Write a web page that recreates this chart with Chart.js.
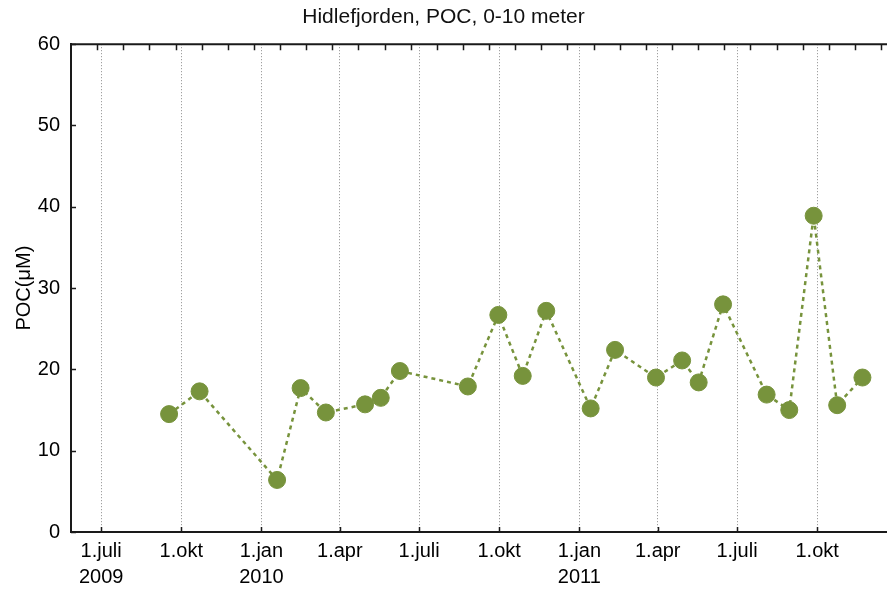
<!DOCTYPE html>
<html>
<head>
<meta charset="utf-8">
<script src="https://cdn.jsdelivr.net/npm/chart.js@4/dist/chart.umd.min.js"></script>
<style>
  html, body { margin: 0; padding: 0; background: #fff; }
  #wrap { width: 887px; height: 591px; }
</style>
</head>
<body>
<div id="wrap"><canvas id="pocChart" width="887" height="591"></canvas></div>
<script>
'use strict';

// sample dates and POC values (µM), 0-10 m
const sampleDates = [
	'2009-09-17', '2009-10-22', '2010-01-19', '2010-02-15', '2010-03-16',
	'2010-04-30', '2010-05-18', '2010-06-09', '2010-08-26', '2010-09-30',
	'2010-10-28', '2010-11-24', '2011-01-14', '2011-02-11', '2011-03-30',
	'2011-04-29', '2011-05-18', '2011-06-15', '2011-08-04', '2011-08-30',
	'2011-09-27', '2011-10-24', '2011-11-22',
];
const pocValues = [
	14.5, 17.3, 6.4, 17.7, 14.7,
	15.7, 16.5, 19.8, 17.9, 26.7,
	19.2, 27.2, 15.2, 22.4, 19.0,
	21.1, 18.4, 28.0, 16.9, 15.0,
	38.9, 15.6, 19.0,
];

// quarter tick dates and their labels
const tickDates = [
	'2009-07-01', '2009-10-01', '2010-01-01', '2010-04-01', '2010-07-01',
	'2010-10-01', '2011-01-01', '2011-04-01', '2011-07-01', '2011-10-01',
];
const tickLabels = [
	['1.juli', '2009'], '1.okt', ['1.jan', '2010'], '1.apr', '1.juli',
	'1.okt', ['1.jan', '2011'], '1.apr', '1.juli', '1.okt',
];
const yTicks = [0, 10, 20, 30, 40, 50, 60];

const origin = Date.UTC(2009, 6, 1);
const toDay = function (s) {
	const p = s.split('-').map(Number);
	return (Date.UTC(p[0], p[1] - 1, p[2]) - origin) / 86400000;
};

const tickDays = tickDates.map(toDay);
const points = sampleDates.map(function (d, i) {
	return { x: toDay(d), y: pocValues[i] };
});

const xMin = -34.6;
const xMax = 902.2;
const green = '#77933C';
const axisColor = '#1a1a1a';
const font = 'Arial, "Liberation Sans", Helvetica, sans-serif';

// top border line + small inward tick marks
const innerTicks = {
	id: 'innerTicks',
	afterDraw(chart) {
		const ctx = chart.ctx;
		const area = chart.chartArea;
		const xs = chart.scales.x;
		const ys = chart.scales.y;
		ctx.save();
		ctx.strokeStyle = axisColor;
		ctx.lineWidth = 2;
		ctx.beginPath();
		ctx.moveTo(area.left - 1, area.top);
		ctx.lineTo(chart.width, area.top);
		ctx.stroke();

		ctx.lineWidth = 1.5;
		ctx.beginPath();
		// top: ticks every 30 days
		for (let d = xMin + 30; d < xMax; d += 30) {
			const px = Math.round(xs.getPixelForValue(d)) + 0.5;
			ctx.moveTo(px, area.top);
			ctx.lineTo(px, area.top + 6);
		}
		// bottom: quarter ticks
		tickDays.forEach(function (d) {
			const px = Math.round(xs.getPixelForValue(d)) + 0.5;
			ctx.moveTo(px, area.bottom);
			ctx.lineTo(px, area.bottom - 5);
		});
		// left: value ticks
		yTicks.forEach(function (v) {
			const py = Math.round(ys.getPixelForValue(v)) + 0.5;
			ctx.moveTo(area.left, py);
			ctx.lineTo(area.left + 5, py);
		});
		ctx.stroke();
		ctx.restore();
	},
};

const ctx = document.getElementById('pocChart');

new Chart(ctx, {
	type: 'line',
	data: {
		datasets: [
			{
				label: 'POC',
				data: points,
				borderColor: green,
				backgroundColor: green,
				borderWidth: 2.5,
				borderDash: [4, 4],
				pointRadius: 8.5,
				pointBackgroundColor: green,
				pointBorderColor: green,
				pointBorderWidth: 1,
				tension: 0,
				fill: false,
			},
		],
	},
	options: {
		responsive: false,
		animation: false,
		layout: {
			autoPadding: false,
			padding: { left: 0, right: 0, top: 0, bottom: 0 },
		},
		scales: {
			x: {
				type: 'linear',
				min: xMin,
				max: xMax,
				afterBuildTicks: function (scale) {
					scale.ticks = tickDays.map(function (d) {
						return { value: d };
					});
				},
				afterFit: function (scale) {
					scale.height = 59;
				},
				ticks: {
					autoSkip: false,
					maxRotation: 0,
					padding: 6,
					color: '#000',
					font: { family: font, size: 20, lineHeight: 1.3 },
					callback: function (value) {
						const i = tickDays.indexOf(value);
						return i >= 0 ? tickLabels[i] : '';
					},
				},
				grid: {
					color: '#8c8c8c',
					lineWidth: 1,
					drawTicks: false,
				},
				border: {
					display: true,
					color: axisColor,
					width: 2,
					dash: [1, 2],
				},
			},
			y: {
				min: 0,
				max: 60,
				afterFit: function (scale) {
					scale.width = 71;
				},
				ticks: {
					stepSize: 10,
					padding: 11,
					color: '#000',
					font: { family: font, size: 20 },
				},
				grid: {
					color: 'rgba(0,0,0,0)',
					drawTicks: false,
				},
				border: {
					display: true,
					color: axisColor,
					width: 2,
				},
				title: {
					display: true,
					text: 'POC(μM)',
					color: '#000',
					font: { family: font, size: 20 },
					padding: { top: 12, bottom: 0 },
				},
			},
		},
		plugins: {
			legend: { display: false },
			tooltip: { enabled: false },
			title: {
				display: true,
				text: 'Hidlefjorden, POC, 0-10 meter',
				color: '#111',
				font: { family: font, size: 21, weight: 'normal', lineHeight: 1.2 },
				padding: { top: 5, bottom: 14 },
			},
		},
	},
	plugins: [innerTicks],
});
</script>
</body>
</html>
